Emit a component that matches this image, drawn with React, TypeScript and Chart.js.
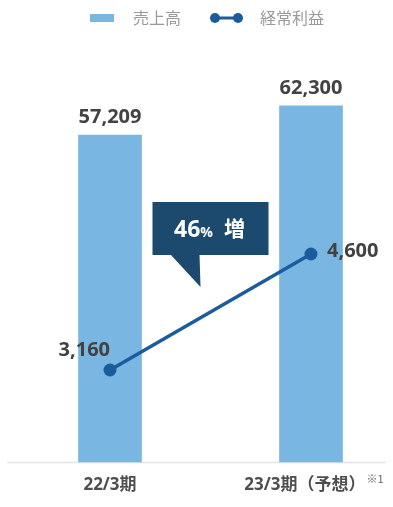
import React, { useEffect, useRef } from "react";
import { Chart, registerables } from "chart.js";

Chart.register(...registerables);

const categories = ["22/3期", "23/3期（予想）"];
const categoryNotes = ["", "※1"];
const salesValues = [57209, 62300];
const profitValues = [3160, 4600];
const legendLabels = ["売上高", "経常利益"];
const calloutPercent = "46";
const calloutSuffix = "%";
const calloutWord = "増";

const BAR_COLOR = "#79b6e1";
const LINE_COLOR = "#1b5c9f";
const CALLOUT_COLOR = "#1b4a6e";
const NUM_FONT = "'Open Sans', 'Noto Sans CJK JP', sans-serif";
const JP_FONT = "'Noto Sans CJK JP', 'Open Sans', sans-serif";

const fmt = (v: number) => v.toLocaleString("en-US");

const overlayPlugin = {
  id: "overlay",
  beforeDatasetsDraw(chart: any) {
    const ctx = chart.ctx;
    const { bottom } = chart.chartArea;
    ctx.save();
    ctx.strokeStyle = "#e4e4e4";
    ctx.lineWidth = 1.5;
    ctx.beginPath();
    ctx.moveTo(7, bottom + 0.5);
    ctx.lineTo(386, bottom + 0.5);
    ctx.stroke();
    ctx.restore();
  },
  afterDatasetsDraw(chart: any) {
    const ctx = chart.ctx;
    const xs = chart.scales.x;
    const { bottom } = chart.chartArea;
    ctx.save();

    // Legend
    ctx.fillStyle = BAR_COLOR;
    ctx.fillRect(90, 14, 24, 8);
    ctx.font = `400 16px ${JP_FONT}`;
    ctx.fillStyle = "#9a9a9a";
    ctx.textBaseline = "middle";
    ctx.textAlign = "left";
    ctx.fillText(legendLabels[0], 133, 18);
    ctx.strokeStyle = LINE_COLOR;
    ctx.lineWidth = 3;
    ctx.beginPath();
    ctx.moveTo(215, 18);
    ctx.lineTo(238, 18);
    ctx.stroke();
    ctx.fillStyle = LINE_COLOR;
    [215, 238].forEach((cx) => {
      ctx.beginPath();
      ctx.arc(cx, 18, 5, 0, Math.PI * 2);
      ctx.fill();
    });
    ctx.fillStyle = "#9a9a9a";
    ctx.fillText(legendLabels[1], 260, 18);

    // X labels
    categories.forEach((label, i) => {
      const px = xs.getPixelForValue(i);
      ctx.font = `700 17px ${NUM_FONT}`;
      const w1 = ctx.measureText(label).width;
      ctx.font = `400 11px ${JP_FONT}`;
      const w2 = categoryNotes[i] ? ctx.measureText(categoryNotes[i]).width + 1 : 0;
      const start = px - (w1 + w2) / 2 + (w2 ? 3 : 0);
      ctx.textAlign = "left";
      ctx.textBaseline = "middle";
      ctx.fillStyle = "#4e4e4e";
      ctx.font = `700 17px ${NUM_FONT}`;
      ctx.fillText(label, start, bottom + 23);
      if (w2) {
        ctx.font = `400 11px ${JP_FONT}`;
        ctx.fillStyle = "#666";
        ctx.fillText(categoryNotes[i], start + w1 + 1, bottom + 17);
      }
    });

    // Bar value labels
    const barMeta = chart.getDatasetMeta(0);
    ctx.font = `700 20px ${NUM_FONT}`;
    ctx.fillStyle = "#424242";
    ctx.textAlign = "center";
    ctx.textBaseline = "middle";
    barMeta.data.forEach((el: any, i: number) => {
      ctx.fillText(fmt(salesValues[i]), el.x, el.y - 17.5);
    });

    // Line value labels
    const lineMeta = chart.getDatasetMeta(1);
    lineMeta.data.forEach((el: any, i: number) => {
      if (i === 0) {
        ctx.textAlign = "right";
        ctx.fillText(fmt(profitValues[i]), el.x, el.y - 20);
      } else {
        ctx.textAlign = "left";
        ctx.fillText(fmt(profitValues[i]), el.x + 16, el.y - 3);
      }
    });

    // Callout
    const mid = (xs.getPixelForValue(0) + xs.getPixelForValue(1)) / 2;
    const bx = mid - 58;
    const bw = 116;
    const by = 202;
    const bh = 53;
    ctx.fillStyle = CALLOUT_COLOR;
    ctx.fillRect(bx, by, bw, bh);
    ctx.beginPath();
    ctx.moveTo(mid - 40, by + bh - 0.5);
    ctx.lineTo(mid - 10, by + bh + 32);
    ctx.lineTo(mid - 11, by + bh - 0.5);
    ctx.closePath();
    ctx.fill();

    ctx.fillStyle = "#ffffff";
    ctx.textBaseline = "alphabetic";
    ctx.textAlign = "left";
    ctx.font = `700 23px ${NUM_FONT}`;
    const wA = ctx.measureText(calloutPercent).width;
    ctx.font = `700 14px ${NUM_FONT}`;
    const wB = ctx.measureText(calloutSuffix).width;
    ctx.font = `700 21px ${JP_FONT}`;
    const wC = ctx.measureText(calloutWord).width;
    const gap = 11;
    const total = wA + wB + gap + wC;
    let tx = mid - total / 2 - 1;
    const baseY = 237;
    ctx.font = `700 23px ${NUM_FONT}`;
    ctx.fillText(calloutPercent, tx, baseY);
    tx += wA;
    ctx.font = `700 14px ${NUM_FONT}`;
    ctx.fillText(calloutSuffix, tx, baseY);
    tx += wB + gap;
    ctx.font = `700 21px ${JP_FONT}`;
    ctx.fillText(calloutWord, tx, baseY - 1);

    ctx.restore();
  },
};

export default function App() {
  const canvasRef = useRef<HTMLCanvasElement | null>(null);

  useEffect(() => {
    if (!canvasRef.current) return;
    const chart = new Chart(canvasRef.current, {
      type: "bar",
      data: {
        labels: categories,
        datasets: [
          {
            type: "bar",
            label: legendLabels[0],
            data: salesValues,
            backgroundColor: BAR_COLOR,
            borderWidth: 0,
            barThickness: 63,
            yAxisID: "y",
            clip: false,
            order: 2,
          } as any,
          {
            type: "line",
            label: legendLabels[1],
            data: profitValues,
            borderColor: LINE_COLOR,
            backgroundColor: LINE_COLOR,
            borderWidth: 3.5,
            pointRadius: 6.5,
            pointBackgroundColor: LINE_COLOR,
            pointBorderWidth: 0,
            yAxisID: "y1",
            clip: false,
            order: 1,
          } as any,
        ],
      },
      options: {
        animation: false,
        responsive: true,
        maintainAspectRatio: false,
        layout: { padding: { left: 110, right: 82, top: 60, bottom: 45 } },
        plugins: {
          legend: { display: false },
          tooltip: { enabled: false },
        },
        scales: {
          x: {
            type: "category",
            offset: false,
            display: false,
            grid: { display: false },
          },
          y: {
            display: false,
            min: 0,
            max: 70330,
          },
          y1: {
            display: false,
            position: "right",
            min: 2018,
            max: 7008,
          },
        },
      },
      plugins: [overlayPlugin],
    });
    return () => chart.destroy();
  }, []);

  return (
    <div
      style={{
        position: "absolute",
        left: 0,
        top: 0,
        width: 393,
        height: 507,
        background: "#fff",
      }}
    >
      <canvas ref={canvasRef} />
    </div>
  );
}
